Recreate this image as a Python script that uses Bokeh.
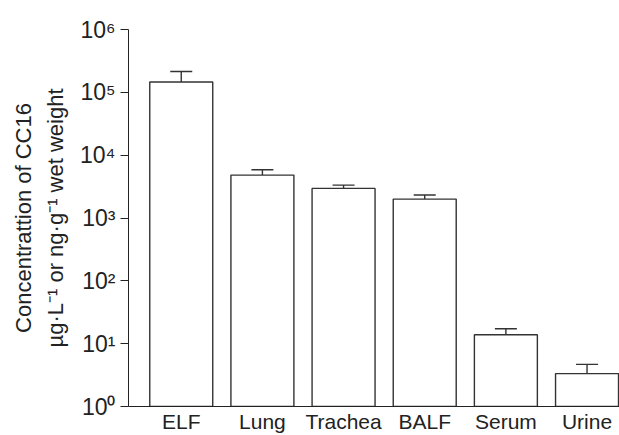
from bokeh.plotting import figure
from bokeh.models import ColumnDataSource, Range1d, FixedTicker, Whisker, TeeHead
from bokeh.embed import file_html
from bokeh.resources import INLINE

categories = ["ELF", "Lung", "Trachea", "BALF", "Serum", "Urine"]
means = [1.46e5, 4820, 2960, 2000, 13.9, 3.34]
upper = [2.15e5, 5850, 3340, 2320, 17.3, 4.69]
y_ticks = [1, 10, 100, 1000, 10000, 100000, 1000000]
y_tick_labels = ["10⁰", "10¹", "10²", "10³", "10⁴", "10⁵", "10⁶"]

FONT = "Liberation Sans"
INK = "#222222"

xpos = [i + 0.5 for i in range(len(categories))]
src = ColumnDataSource(dict(x=xpos, top=means, up=upper))

p = figure(width=619, height=435, x_range=Range1d(-0.15, 5.9), y_axis_type="log",
           y_range=Range1d(1, 1e6), output_backend="svg", toolbar_location=None,
           min_border_left=128, min_border_top=29, min_border_right=0, min_border_bottom=28)

p.vbar(x="x", top="top", bottom=1, width=0.776, source=src,
       fill_color="white", line_color="#333333", line_width=1.4)

w = Whisker(base="x", lower="top", upper="up", source=src,
            line_color="#333333", line_width=1.4,
            upper_head=TeeHead(size=22, line_color="#333333", line_width=1.4),
            lower_head=None)
p.add_layout(w)

p.grid.visible = False
p.outline_line_color = None

p.yaxis.ticker = FixedTicker(ticks=y_ticks, minor_ticks=[])
p.yaxis.major_label_overrides = {t: l for t, l in zip(y_ticks, y_tick_labels)}
p.yaxis.major_tick_out = 8
p.yaxis.major_tick_in = 0
p.yaxis.minor_tick_out = 0
p.yaxis.minor_tick_in = 0
p.yaxis.major_label_text_font = FONT
p.yaxis.major_label_text_font_size = "23px"
p.yaxis.major_label_text_color = INK
p.yaxis.major_label_standoff = 5
p.yaxis.axis_line_color = INK
p.yaxis.major_tick_line_color = INK
p.yaxis.axis_label = "Concentrattion of CC16\nµg·L⁻¹ or ng·g⁻¹ wet weight"
p.yaxis.axis_label_text_font = FONT
p.yaxis.axis_label_text_font_size = "22px"
p.yaxis.axis_label_text_font_style = "normal"
p.yaxis.axis_label_text_color = INK
p.yaxis.axis_label_text_line_height = 1.3
p.yaxis.axis_label_standoff = 9

p.xaxis.ticker = FixedTicker(ticks=xpos, minor_ticks=[])
p.xaxis.major_label_overrides = {x: c for x, c in zip(xpos, categories)}
p.xaxis.major_tick_out = 0
p.xaxis.major_tick_in = 0
p.xaxis.minor_tick_out = 0
p.xaxis.axis_line_color = INK
p.xaxis.major_label_text_font = FONT
p.xaxis.major_label_text_font_size = "21px"
p.xaxis.major_label_text_color = INK
p.xaxis.major_label_standoff = 3

open("out.html", "w").write(file_html(p, INLINE))
